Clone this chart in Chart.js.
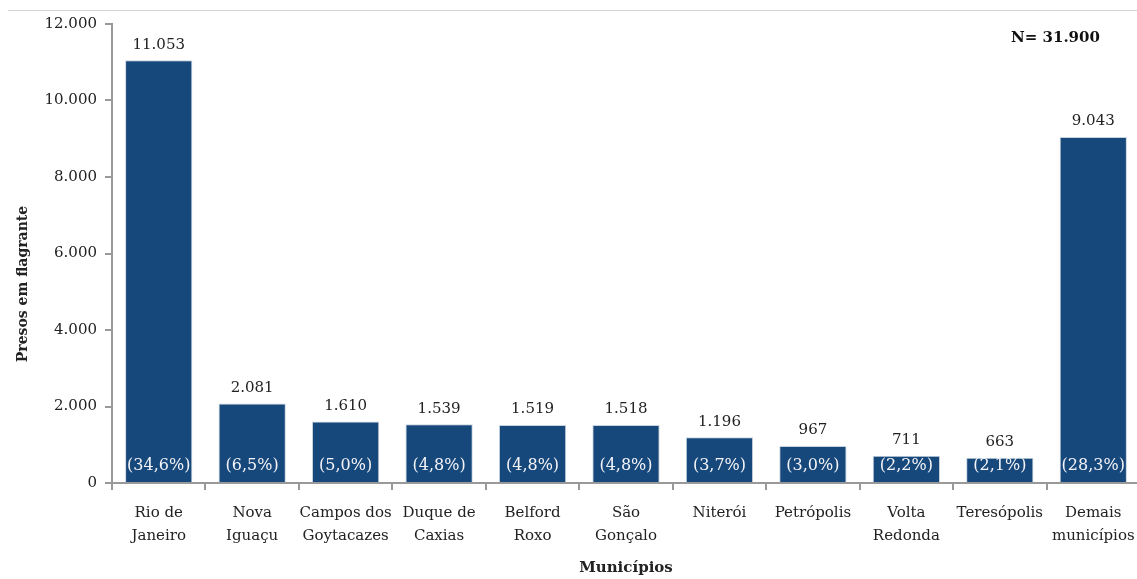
<!DOCTYPE html>
<html><head><meta charset="utf-8">
<script src="https://cdn.jsdelivr.net/npm/chart.js@4.4.1/dist/chart.umd.min.js"></script>
<style>html,body{margin:0;padding:0;background:#fff;overflow:hidden}#wrap{width:1137px;height:579px;position:relative;overflow:hidden}</style>
</head><body><div id="wrap"><canvas id="c" width="1140" height="579"></canvas></div>
<script>
const categories = [["Rio de","Janeiro"],["Nova","Iguaçu"],["Campos dos","Goytacazes"],["Duque de","Caxias"],["Belford","Roxo"],["São","Gonçalo"],["Niterói"],["Petrópolis"],["Volta","Redonda"],["Teresópolis"],["Demais","municípios"]];
const presos = [11053, 2081, 1610, 1539, 1519, 1518, 1196, 967, 711, 663, 9043];
const percentLabels = ["(34,6%)","(6,5%)","(5,0%)","(4,8%)","(4,8%)","(4,8%)","(3,7%)","(3,0%)","(2,2%)","(2,1%)","(28,3%)"];
const yTicks = [0, 2000, 4000, 6000, 8000, 10000, 12000];
const totalLabel = "N= 31.900";
const yTitle = "Presos em flagrante";

const SERIF = "'DejaVu Serif','Liberation Serif',serif";
function fmt(v){ return String(v).replace(/\B(?=(\d{3})+(?!\d))/g, "."); }

const labelPlugin = {
  id: 'labels',
  afterDatasetsDraw(chart){
    const ctx = chart.ctx;
    const meta = chart.getDatasetMeta(0);
    ctx.save();
    ctx.textAlign = 'center';
    meta.data.forEach((bar, i) => {
      ctx.fillStyle = '#222';
      ctx.font = "15px " + SERIF;
      ctx.textBaseline = 'bottom';
      ctx.fillText(fmt(presos[i]), bar.x, bar.y - 8);
      ctx.fillStyle = '#f4f4f8';
      ctx.font = "16px " + SERIF;
      ctx.textBaseline = 'middle';
      ctx.fillText(percentLabels[i], bar.x, bar.base - 16);
    });
    // top line
    ctx.strokeStyle = '#d4d4d4';
    ctx.lineWidth = 1;
    ctx.beginPath(); ctx.moveTo(8, 10.5); ctx.lineTo(1140, 10.5); ctx.stroke();
    ctx.fillStyle = '#111';
    ctx.font = "bold 15px " + SERIF;
    ctx.textAlign = 'left';
    ctx.textBaseline = 'middle';
    ctx.fillText(totalLabel, 1011, 38);
    // y title
    ctx.translate(23, 284);
    ctx.rotate(-Math.PI/2);
    ctx.textAlign = 'center';
    ctx.font = "bold 14px " + SERIF;
    ctx.fillStyle = '#222';
    ctx.fillText(yTitle, 0, 0);
    ctx.restore();
  }
};

new Chart(document.getElementById('c'), {
  type: 'bar',
  data: {
    labels: categories,
    datasets: [{
      data: presos,
      backgroundColor: '#17487b',
      borderColor: '#c9d3de',
      borderWidth: 1,
      categoryPercentage: 1,
      barPercentage: 0.72
    }]
  },
  options: {
    responsive: false,
    animation: false,
    layout: { padding: { top: 24, left: 0, right: 0, bottom: 0 } },
    plugins: { legend: { display: false }, tooltip: { enabled: false } },
    scales: {
      x: {
        offset: true,
        grid: { display: true, drawOnChartArea: false, offset: true, color: '#999', lineWidth: 2, tickLength: 7 },
        border: { display: true, color: '#999', width: 2 },
        ticks: { color: '#222', font: { family: SERIF, size: 15, lineHeight: 1.5 }, padding: 12, maxRotation: 0, autoSkip: false },
        title: { display: true, text: 'Municípios', color: '#222', font: { family: SERIF, size: 15, weight: 'bold' }, padding: { top: 0, bottom: 2 } },
        afterFit(s){ s.height = 96; s.paddingLeft = 0; s.paddingRight = 0; }
      },
      y: {
        min: 0, max: 12000,
        afterBuildTicks(s){ s.ticks = yTicks.map(v => ({ value: v })); },
        grid: { display: true, drawOnChartArea: false, color: '#999', lineWidth: 2, tickLength: 7 },
        border: { display: true, color: '#999', width: 2 },
        ticks: { color: '#222', font: { family: SERIF, size: 15 }, padding: 8, callback: v => fmt(v) },
        title: { display: false },
        afterFit(s){ s.width = 112; s.paddingTop = 0; s.paddingBottom = 0; }
      }
    }
  },
  plugins: [labelPlugin]
});
</script></body></html>
